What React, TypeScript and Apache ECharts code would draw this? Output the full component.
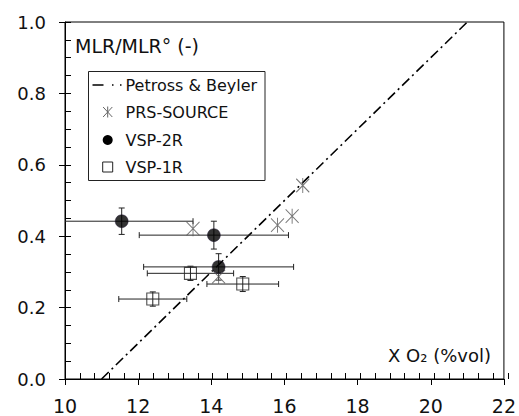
import { useEffect, useRef } from "react";
import * as echarts from "echarts";

// Petross & Beyler correlation (straight line)
const petrossX = [11, 21];
const petrossY = [0, 1];

// PRS-SOURCE measurements
const prsX = [13.5, 14.2, 15.81, 16.21, 16.5];
const prsY = [0.421, 0.287, 0.431, 0.456, 0.542];

// VSP-2R measurements with symmetric uncertainties
const vsp2rX = [11.55, 14.07, 14.2];
const vsp2rY = [0.442, 0.403, 0.314];
const vsp2rXErr = [1.95, 2.04, 2.05];
const vsp2rYErr = [0.037, 0.039, 0.037];

// VSP-1R measurements with symmetric uncertainties
const vsp1rX = [13.43, 14.86, 12.4];
const vsp1rY = [0.296, 0.266, 0.224];
const vsp1rXErr = [1.18, 0.98, 0.93];
const vsp1rYErr = [0.02, 0.021, 0.02];

const legendNames = ["Petross & Beyler", "PRS-SOURCE", "VSP-2R", "VSP-1R"];
const yAxisTitle = "MLR/MLR\u00b0 (-)";
const xAxisTitle = "X O\u2082 (%vol)";

const FONT = '"DejaVu Sans", Verdana, sans-serif';
const INK = "#111";

const toPairs = (xs: number[], ys: number[]) => xs.map((x, i) => [x, ys[i]]);
const toErr = (xs: number[], ys: number[], xe: number[], ye: number[]) =>
  xs.map((x, i) => [x, ys[i], xe[i], ye[i]]);

function errorBars(params: any, api: any) {
  const x = api.value(0);
  const y = api.value(1);
  const xe = api.value(2);
  const ye = api.value(3);
  const cs = params.coordSys;
  const [cx, cy] = api.coord([x, y]);
  let lx = api.coord([x - xe, y])[0];
  let rx = api.coord([x + xe, y])[0];
  const ty = api.coord([x, y + ye])[1];
  const by = api.coord([x, y - ye])[1];
  const cap = 3;
  const style = { stroke: "#222", lineWidth: 1 };
  const leftClipped = lx < cs.x;
  const rightClipped = rx > cs.x + cs.width;
  if (leftClipped) lx = cs.x;
  if (rightClipped) rx = cs.x + cs.width;
  const children: any[] = [
    { type: "line", shape: { x1: lx, y1: cy, x2: rx, y2: cy }, style },
    { type: "line", shape: { x1: cx, y1: ty, x2: cx, y2: by }, style },
    { type: "line", shape: { x1: cx - cap, y1: ty, x2: cx + cap, y2: ty }, style },
    { type: "line", shape: { x1: cx - cap, y1: by, x2: cx + cap, y2: by }, style },
  ];
  if (!leftClipped)
    children.push({ type: "line", shape: { x1: lx, y1: cy - cap, x2: lx, y2: cy + cap }, style });
  if (!rightClipped)
    children.push({ type: "line", shape: { x1: rx, y1: cy - cap, x2: rx, y2: cy + cap }, style });
  return { type: "group", children };
}

const asteriskPath = "path://M0,-1L0,1M-0.8,-0.9L0.8,0.9M-0.8,0.9L0.8,-0.9";

function legendGraphic() {
  const left = 88.5;
  const top = 71.5;
  const rows = [85, 112, 140, 167];
  const mx = 107.7;
  const tx = 125.5;
  const els: any[] = [
    {
      type: "rect",
      shape: { x: left, y: top, width: 176.5, height: 109 },
      style: { fill: "#fff", stroke: "#222", lineWidth: 1 },
      z: 10,
    },
    {
      type: "line",
      shape: { x1: 92.5, y1: rows[0], x2: 124, y2: rows[0] },
      style: { stroke: "#000", lineWidth: 1.6, lineDash: [11, 8.5, 1.5, 6.5, 1.5, 100] },
      z: 11,
    },
    // asterisk marker
    { type: "line", shape: { x1: mx, y1: rows[1] - 5.5, x2: mx, y2: rows[1] + 5.5 }, style: { stroke: "#666", lineWidth: 1 }, z: 11 },
    { type: "line", shape: { x1: mx - 4.6, y1: rows[1] - 5, x2: mx + 4.6, y2: rows[1] + 5 }, style: { stroke: "#666", lineWidth: 1 }, z: 11 },
    { type: "line", shape: { x1: mx - 4.6, y1: rows[1] + 5, x2: mx + 4.6, y2: rows[1] - 5 }, style: { stroke: "#666", lineWidth: 1 }, z: 11 },
    { type: "circle", shape: { cx: mx, cy: rows[2], r: 5 }, style: { fill: "#000" }, z: 11 },
    {
      type: "rect",
      shape: { x: mx - 5, y: rows[3] - 5, width: 10, height: 10 },
      style: { fill: "#fff", stroke: "#222", lineWidth: 1 },
      z: 11,
    },
  ];
  legendNames.forEach((name, i) => {
    els.push({
      type: "text",
      x: tx,
      y: rows[i],
      z: 11,
      style: { text: name, font: `16px ${FONT}`, fill: INK, align: "left", verticalAlign: "middle" },
    });
  });
  return els;
}

export default function App() {
  const ref = useRef<HTMLDivElement>(null);

  useEffect(() => {
    if (!ref.current) return;
    const chart = echarts.init(ref.current, undefined, { renderer: "svg" });
    const gridBox = { left: 65, right: 11, top: 22, bottom: 37 };
    const tickLine = { color: "#000", width: 1 };

    chart.setOption({
      animation: false,
      backgroundColor: "#fff",
      textStyle: { fontFamily: FONT },
      grid: [
        { ...gridBox, show: true, borderColor: "#000", borderWidth: 1, backgroundColor: "transparent" },
        { ...gridBox, show: false },
      ],
      xAxis: [
        {
          type: "value",
          gridIndex: 0,
          min: 10,
          max: 22,
          interval: 2,
          axisLine: { show: true, onZero: false, lineStyle: tickLine },
          axisTick: { show: true, inside: false, length: 6, lineStyle: tickLine },
          splitLine: { show: false },
          axisLabel: {
            fontSize: 19,
            lineHeight: 19,
            color: INK,
            margin: 17,
            fontFamily: FONT,
            showMinLabel: true,
            showMaxLabel: true,
          },
        },
        {
          type: "value",
          gridIndex: 1,
          min: 10,
          max: 22,
          interval: 2,
          axisLine: { show: false },
          axisTick: { show: true, inside: true, length: 6, lineStyle: tickLine },
          minorTick: { show: true, splitNumber: 5, length: 6, lineStyle: tickLine },
          splitLine: { show: false },
          axisLabel: { show: false },
        },
      ],
      yAxis: [
        {
          type: "value",
          gridIndex: 0,
          min: 0,
          max: 1,
          interval: 0.2,
          axisLine: { show: true, onZero: false, lineStyle: tickLine },
          axisTick: { show: true, inside: false, length: 6, lineStyle: tickLine },
          splitLine: { show: false },
          axisLabel: {
            fontSize: 18,
            color: INK,
            margin: 19,
            fontFamily: FONT,
            showMinLabel: true,
            showMaxLabel: true,
            formatter: (v: number) => v.toFixed(1),
          },
        },
        {
          type: "value",
          gridIndex: 1,
          min: 0,
          max: 1,
          interval: 0.2,
          axisLine: { show: false },
          axisTick: { show: true, inside: true, length: 6, lineStyle: tickLine },
          minorTick: { show: true, splitNumber: 4, length: 6, lineStyle: tickLine },
          splitLine: { show: false },
          axisLabel: { show: false },
        },
      ],
      series: [
        {
          name: legendNames[0],
          type: "line",
          xAxisIndex: 0,
          yAxisIndex: 0,
          data: toPairs(petrossX, petrossY),
          symbol: "none",
          lineStyle: { color: "#000", width: 1.6, type: [10, 4, 2, 4] },
          z: 2,
        },
        {
          name: legendNames[2] + " error",
          type: "custom",
          xAxisIndex: 0,
          yAxisIndex: 0,
          data: toErr(vsp2rX, vsp2rY, vsp2rXErr, vsp2rYErr),
          renderItem: errorBars,
          encode: { x: 0, y: 1 },
          z: 3,
        },
        {
          name: legendNames[3] + " error",
          type: "custom",
          xAxisIndex: 0,
          yAxisIndex: 0,
          data: toErr(vsp1rX, vsp1rY, vsp1rXErr, vsp1rYErr),
          renderItem: errorBars,
          encode: { x: 0, y: 1 },
          z: 3,
        },
        {
          name: legendNames[1],
          type: "scatter",
          xAxisIndex: 0,
          yAxisIndex: 0,
          data: toPairs(prsX, prsY),
          symbol: asteriskPath,
          symbolSize: [13, 15],
          itemStyle: { color: "none", borderColor: "#555", borderWidth: 1 },
          z: 4,
        },
        {
          name: legendNames[2],
          type: "scatter",
          xAxisIndex: 0,
          yAxisIndex: 0,
          data: toPairs(vsp2rX, vsp2rY),
          symbol: "circle",
          symbolSize: 13,
          itemStyle: { color: "#000", borderColor: "#1a1030", borderWidth: 0.5 },
          z: 5,
        },
        {
          name: legendNames[3],
          type: "scatter",
          xAxisIndex: 0,
          yAxisIndex: 0,
          data: toPairs(vsp1rX, vsp1rY),
          symbol: "rect",
          symbolSize: 12,
          itemStyle: { color: "none", borderColor: "#222", borderWidth: 1.1 },
          z: 5,
        },
      ],
      graphic: [
        {
          type: "text",
          x: 75,
          y: 46,
          z: 10,
          style: { text: yAxisTitle, font: `19px ${FONT}`, fill: INK, align: "left", verticalAlign: "middle" },
        },
        {
          type: "text",
          x: 388,
          y: 355,
          z: 10,
          style: { text: xAxisTitle, font: `18px ${FONT}`, fill: INK, align: "left", verticalAlign: "middle" },
        },
        ...legendGraphic(),
      ],
    });

    return () => chart.dispose();
  }, []);

  return (
    <div
      ref={ref}
      style={{ position: "fixed", left: 0, top: 0, width: 519, height: 416, background: "#fff" }}
    />
  );
}
